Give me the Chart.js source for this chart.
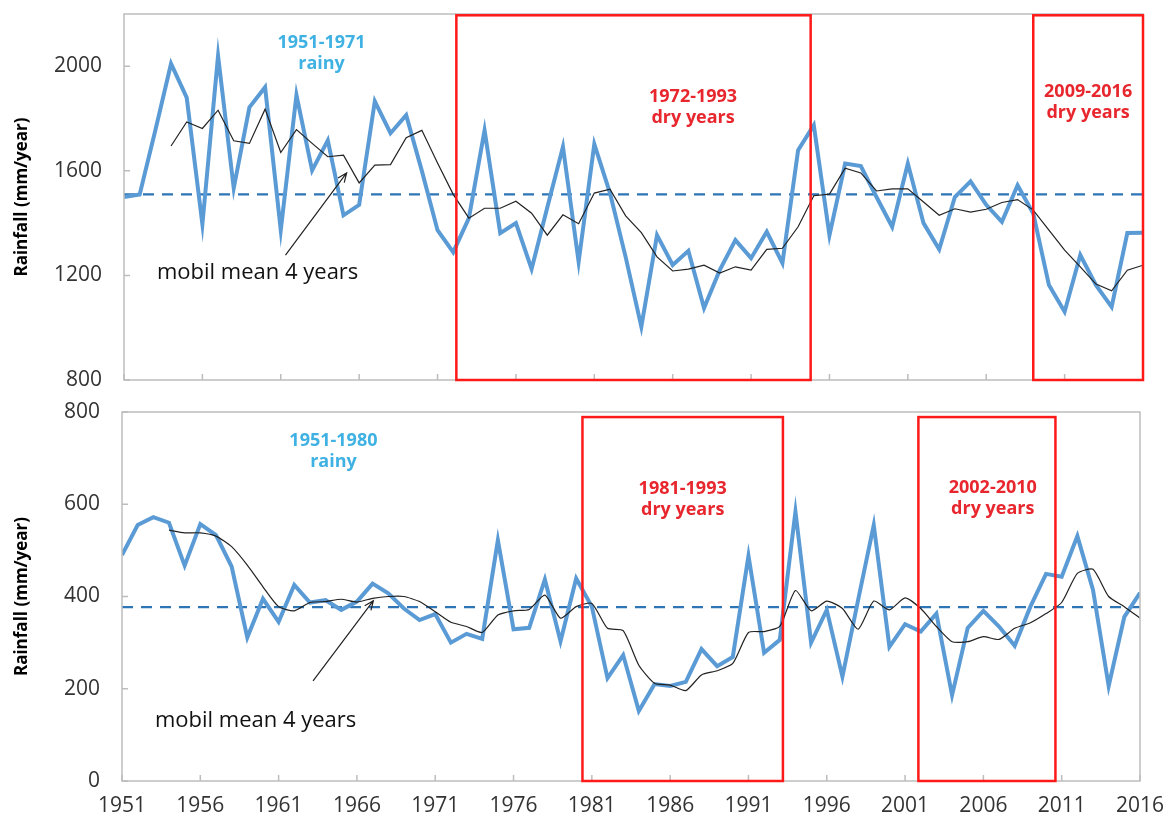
<!DOCTYPE html>
<html>
<head>
<meta charset="utf-8">
<script src="https://cdn.jsdelivr.net/npm/chart.js@4.4.1/dist/chart.umd.min.js"></script>
<style>
  html, body { margin: 0; padding: 0; background: #fff; }
  #wrap { position: relative; width: 1174px; height: 817px; }
  .panel { position: absolute; left: 0; width: 1174px; }
  #top { top: 0; height: 395px; }
  #bottom { top: 395px; height: 422px; }
</style>
</head>
<body>
<div id="wrap">
  <div class="panel" id="top"><canvas id="topChart"></canvas></div>
  <div class="panel" id="bottom"><canvas id="bottomChart"></canvas></div>
</div>
<script>
// YEARS ON THE X AXIS
const years = [];
for (let y = 1951; y <= 2016; y++) years.push(y);
const yearTicks = [1951, 1956, 1961, 1966, 1971, 1976, 1981, 1986, 1991, 1996, 2001, 2006, 2011, 2016];

// TOP PANEL
const topRain = [
  1500, 1510, 1755, 2010, 1880, 1396, 2040, 1534, 1843, 1920,
  1373, 1890, 1602, 1717, 1430, 1470, 1866, 1744, 1813, 1600,
  1373, 1289, 1419, 1755, 1362, 1400, 1225, 1460, 1692, 1252,
  1702, 1515, 1270, 1004, 1354, 1240, 1294, 1075, 1220, 1335,
  1266, 1367, 1247, 1679, 1775, 1354, 1628, 1618, 1500, 1386,
  1628, 1400, 1300, 1500, 1560, 1470, 1405, 1545, 1437, 1163,
  1061, 1278, 1163, 1080, 1362, 1363
];
const topMobil = [
  null, null, null, 1695, 1787, 1762, 1832, 1715, 1705, 1836,
  1670, 1758, 1705, 1654, 1660, 1554, 1622, 1624, 1727, 1755,
  1630, 1510, 1419, 1457, 1457, 1484, 1438, 1354, 1432, 1398,
  1515, 1530, 1428, 1364, 1271, 1217, 1224, 1239, 1209, 1233,
  1220, 1300, 1304, 1386, 1505, 1511, 1610, 1592, 1523, 1531,
  1531, 1481, 1430, 1455, 1442, 1453, 1479, 1490, 1450, 1373,
  1297, 1233, 1167, 1141, 1220, 1239
];
const topAverage = 1510;
const topTicks = [800, 1200, 1600, 2000];

// BOTTOM PANEL
const bottomRain = [
  490, 555, 572, 560, 467, 557, 533, 465, 311, 395,
  345, 425, 387, 392, 371, 389, 428, 407, 374, 349,
  362, 300, 319, 308, 522, 329, 332, 437, 303, 439,
  378, 223, 273, 152, 210, 206, 215, 286, 249, 269,
  488, 278, 306, 584, 300, 371, 226, 392, 555, 291,
  340, 324, 363, 186, 332, 369, 335, 293, 378, 449,
  443, 531, 414, 206, 356, 408
];
const bottomMobil = [
  null, null, null, 544, 538, 538, 531, 508, 468, 421,
  378, 369, 387, 389, 394, 388, 396, 400, 400, 389,
  367, 344, 335, 322, 360, 369, 372, 403, 353, 378,
  385, 331, 326, 251, 212, 208, 196, 230, 239, 255,
  322, 324, 335, 413, 369, 390, 374, 329, 390, 371,
  397, 374, 335, 302, 302, 313, 307, 331, 343, 363,
  387, 450, 459, 400, 378, 353
];
const bottomAverage = 377;
const bottomTicks = [0, 200, 400, 600, 800];

// PERIODS (boxes drawn from year to year)
const topPeriods = [
  { from: 1972.2, to: 1994.8, lines: ["1972-1993", "dry years"] },
  { from: 2009.0, to: 2016.0, lines: ["2009-2016", "dry years"] }
];
const bottomPeriods = [
  { from: 1980.4, to: 1993.2, lines: ["1981-1993", "dry years"] },
  { from: 2001.85, to: 2010.6, lines: ["2002-2010", "dry years"] }
];

const BLUE = "#5b9bd5";
const RED = "#ff1a1a";
const RED_TXT = "#e8262d";
const RAINY_TXT = "#3fb1e3";
const FONT = "'Open Sans'";

const pts = arr => arr.map((v, i) => ({ x: years[i], y: v }));

// frame, inward ticks, red boxes, texts, arrow
const decor = {
  id: "decor",
  afterDraw(chart, args, o) {
    const { ctx, chartArea: a, scales } = chart;
    const x = scales.x, y = scales.y;
    ctx.save();
    ctx.strokeStyle = "#bdbdbd";
    ctx.lineWidth = 1.5;
    ctx.strokeRect(a.left, a.top, a.right - a.left, a.bottom - a.top);
    ctx.beginPath();
    x.ticks.forEach(t => {
      const px = x.getPixelForValue(t.value);
      ctx.moveTo(px, a.bottom);
      ctx.lineTo(px, a.bottom - 6);
    });
    y.ticks.forEach(t => {
      const py = y.getPixelForValue(t.value);
      ctx.moveTo(a.left, py);
      ctx.lineTo(a.left + 6, py);
    });
    ctx.stroke();

    // boxes
    ctx.strokeStyle = RED;
    ctx.lineWidth = 2.5;
    o.periods.forEach(p => {
      const l = x.getPixelForValue(p.from), r = x.getPixelForValue(p.to);
      const t = y.getPixelForValue(o.boxTop), b = y.getPixelForValue(y.min);
      ctx.strokeRect(l, t, r - l, b - t);
    });

    // texts
    ctx.textAlign = "center";
    ctx.textBaseline = "middle";
    ctx.font = "bold 18px " + FONT;
    o.notes.forEach(n => {
      ctx.fillStyle = n.color;
      n.lines.forEach((s, i) => {
        ctx.fillText(s, x.getPixelForValue(n.year), y.getPixelForValue(n.value) + i * 21);
      });
    });

    ctx.fillStyle = "#111";
    ctx.font = "22px " + FONT;
    ctx.textAlign = "left";
    ctx.fillText("mobil mean 4 years", x.getPixelForValue(o.mobil.year), y.getPixelForValue(o.mobil.value));

    // arrow
    const x0 = x.getPixelForValue(o.arrow[0]), y0 = y.getPixelForValue(o.arrow[1]);
    const x1 = x.getPixelForValue(o.arrow[2]), y1 = y.getPixelForValue(o.arrow[3]);
    const ang = Math.atan2(y1 - y0, x1 - x0);
    ctx.strokeStyle = "#222";
    ctx.lineWidth = 1.2;
    ctx.beginPath();
    ctx.moveTo(x0, y0);
    ctx.lineTo(x1, y1);
    ctx.moveTo(x1 - 10 * Math.cos(ang - 0.4), y1 - 10 * Math.sin(ang - 0.4));
    ctx.lineTo(x1, y1);
    ctx.lineTo(x1 - 10 * Math.cos(ang + 0.4), y1 - 10 * Math.sin(ang + 0.4));
    ctx.stroke();
    ctx.restore();
  }
};

function makeChart(id, cfg) {
  return new Chart(document.getElementById(id), {
    type: "line",
    data: {
      datasets: [
        {
          data: pts(cfg.rain),
          borderColor: BLUE,
          borderWidth: 4,
          pointRadius: 0,
          tension: 0,
          order: 2
        },
        {
          data: pts(cfg.mobil),
          borderColor: "#222",
          borderWidth: 1.2,
          pointRadius: 0,
          tension: cfg.tension,
          spanGaps: false,
          order: 1
        },
        {
          data: [
            { x: years[0], y: cfg.average },
            { x: years[years.length - 1], y: cfg.average }
          ],
          borderColor: "#2e75b6",
          borderWidth: 2.2,
          borderDash: [11, 8],
          pointRadius: 0,
          order: 3
        }
      ]
    },
    options: {
      responsive: true,
      maintainAspectRatio: false,
      animation: false,
      devicePixelRatio: 1,
      layout: { padding: cfg.padding },
      plugins: {
        legend: { display: false },
        tooltip: { enabled: false },
        decor: cfg.decor
      },
      scales: {
        x: {
          type: "linear",
          min: 1951,
          max: 2016,
          afterBuildTicks: s => { s.ticks = yearTicks.map(v => ({ value: v })); },
          afterFit: s => { s.height = cfg.xHeight; s.paddingLeft = 0; s.paddingRight = 0; },
          grid: { display: false, drawTicks: false },
          border: { display: false },
          ticks: {
            display: cfg.showYears,
            padding: 12,
            color: "#333",
            font: { family: FONT, size: 21 },
            callback: v => String(v)
          }
        },
        y: {
          min: cfg.min,
          max: cfg.max,
          afterBuildTicks: s => { s.ticks = cfg.ticks.map(v => ({ value: v })); },
          afterFit: s => { s.width = cfg.yWidth; s.paddingTop = 0; s.paddingBottom = 0; },
          grid: { display: false, drawTicks: false },
          border: { display: false },
          ticks: {
            padding: 22,
            color: "#333",
            font: { family: FONT, size: 21 },
            callback: v => String(v)
          },
          title: {
            display: true,
            text: "Rainfall (mm/year)",
            color: "#000",
            padding: { top: 12, bottom: 0 },
            font: { family: FONT, size: 17, weight: "bold" }
          }
        }
      }
    },
    plugins: [decor]
  });
}

makeChart("topChart", {
  rain: topRain,
  mobil: topMobil,
  average: topAverage,
  tension: 0,
  min: 800,
  max: 2200,
  ticks: topTicks,
  showYears: false,
  xHeight: 15,
  yWidth: 124,
  padding: { left: 0, right: 31, top: 14, bottom: 0 },
  decor: {
    periods: topPeriods,
    boxTop: 2195,
    notes: [
      { lines: ["1951-1971", "rainy"], year: 1963.6, value: 2090, color: RAINY_TXT },
      { lines: topPeriods[0].lines, year: 1987.3, value: 1883, color: RED_TXT },
      { lines: topPeriods[1].lines, year: 2012.5, value: 1904, color: RED_TXT }
    ],
    mobil: { year: 1953.1, value: 1209 },
    arrow: [1961.3, 1278, 1965.2, 1592]
  }
});

makeChart("bottomChart", {
  rain: bottomRain,
  mobil: bottomMobil,
  average: bottomAverage,
  tension: 0.2,
  min: 0,
  max: 800,
  ticks: bottomTicks,
  showYears: true,
  xHeight: 36,
  yWidth: 122,
  padding: { left: 0, right: 34, top: 17, bottom: 0 },
  decor: {
    periods: bottomPeriods,
    boxTop: 789,
    notes: [
      { lines: ["1951-1980", "rainy"], year: 1964.5, value: 737, color: RAINY_TXT },
      { lines: bottomPeriods[0].lines, year: 1986.8, value: 633, color: RED_TXT },
      { lines: bottomPeriods[1].lines, year: 2006.6, value: 635, color: RED_TXT }
    ],
    mobil: { year: 1953.1, value: 130 },
    arrow: [1963.2, 217, 1967.05, 391]
  }
});
</script>
</body>
</html>
